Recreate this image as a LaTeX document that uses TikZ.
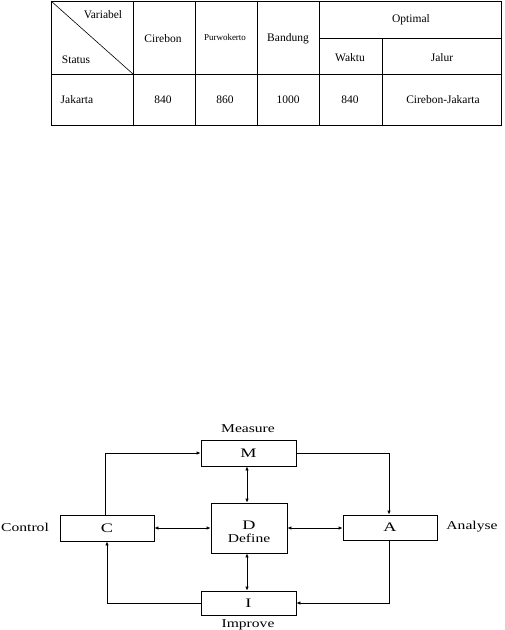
\documentclass[tikz,border=0pt]{standalone}
\usepackage{fontspec}
\setmainfont{Liberation Serif}
\newfontfamily\widefont[FakeStretch=1.3]{Liberation Serif}
\newfontfamily\widerfont[FakeStretch=1.4]{Liberation Serif}
\usetikzlibrary{arrows.meta}
\begin{document}
\begin{tikzpicture}[x=1pt,y=-1pt,
  tline/.style={line width=0.8pt},
  ttext/.style={font=\fontsize{11.5}{13}\selectfont, inner sep=0pt},
  box/.style={draw, line width=0.8pt, inner sep=0pt},
  big/.style={font=\widerfont\fontsize{13}{15}\selectfont},
  lbl/.style={font=\widefont\fontsize{12}{14}\selectfont, inner sep=0pt},
  conn/.style={line width=0.8pt},
  tip/.style={-{Latex[length=4pt,width=3.5pt]}},
  tips/.style={{Latex[length=4pt,width=3.5pt]}-{Latex[length=4pt,width=3.5pt]}}
]
\useasboundingbox (0,0) rectangle (505,630);
% ---------- table ----------
\draw[tline] (51,1) rectangle (501,125);
\draw[tline] (51,74) -- (501,74);
\draw[tline] (319,38) -- (501,38);
\draw[tline] (133,1) -- (133,125);
\draw[tline] (195,1) -- (195,125);
\draw[tline] (257,1) -- (257,125);
\draw[tline] (319,1) -- (319,125);
\draw[tline] (382,38) -- (382,125);
\draw[line width=0.6pt] (51,1) -- (133,74);
\node[ttext] (tv) at (103,15) {Variabel};
\node[ttext] (ts) at (76,60) {Status};
\node[ttext] (tc) at (163,39) {Cirebon};
\node[ttext, font=\fontsize{9}{10}\selectfont] (tp) at (225,37) {Purwokerto};
\node[ttext] (tb) at (288,39) {Bandung};
\node[ttext] (to) at (411,20) {Optimal};
\node[ttext] (tw) at (350,58) {Waktu};
\node[ttext] (tj) at (442,58) {Jalur};
\node[ttext] (r1) at (77,100) {Jakarta};
\node[ttext] (r2) at (163,100) {840};
\node[ttext] (r3) at (225,100) {860};
\node[ttext] (r4) at (288,100) {1000};
\node[ttext] (r5) at (350,100) {840};
\node[ttext] (r6) at (443,100) {Cirebon-Jakarta};
% ---------- diagram ----------
\node[box, minimum width=95pt, minimum height=26pt, big] (M) at (248.5,453) {M};
\node[box, minimum width=94pt, minimum height=26pt, big] (C) at (107,528) {C};
\node[box, minimum width=76pt, minimum height=50pt] (D) at (249,528) {};
\node[big, inner sep=0pt] (Dl) at (249,525) {D};
\node[lbl] (Dd) at (249,538) {Define};
\node[box, minimum width=94pt, minimum height=25pt, big] (A) at (390,527.5) {A};
\node[box, minimum width=95pt, minimum height=24pt, big] (I) at (248.5,603) {I};
\node[lbl] (lm) at (248,429) {Measure};
\node[lbl] (lc) at (25,527) {Control};
\node[lbl] (la) at (472,527) {Analyse};
\node[lbl] (li) at (248,625) {Improve};
\draw[conn,tip] (C.north -| 105,0) |- (M.west);
\draw[conn,tip] (M.east) -| (A.north -| 389,0);
\draw[conn,tips] (M.south -| 247,0) -- (D.north -| 247,0);
\draw[conn,tips] (D.south -| 247,0) -- (I.north -| 247,0);
\draw[conn,tip] (A.south -| 389,0) |- (I.east);
\draw[conn,tip] (I.west) -| (C.south -| 107,0);
\draw[conn,tips] (C.east) -- (D.west);
\draw[conn,tips] (D.east) -- (A.west |- D.east);
\end{tikzpicture}
\end{document}
